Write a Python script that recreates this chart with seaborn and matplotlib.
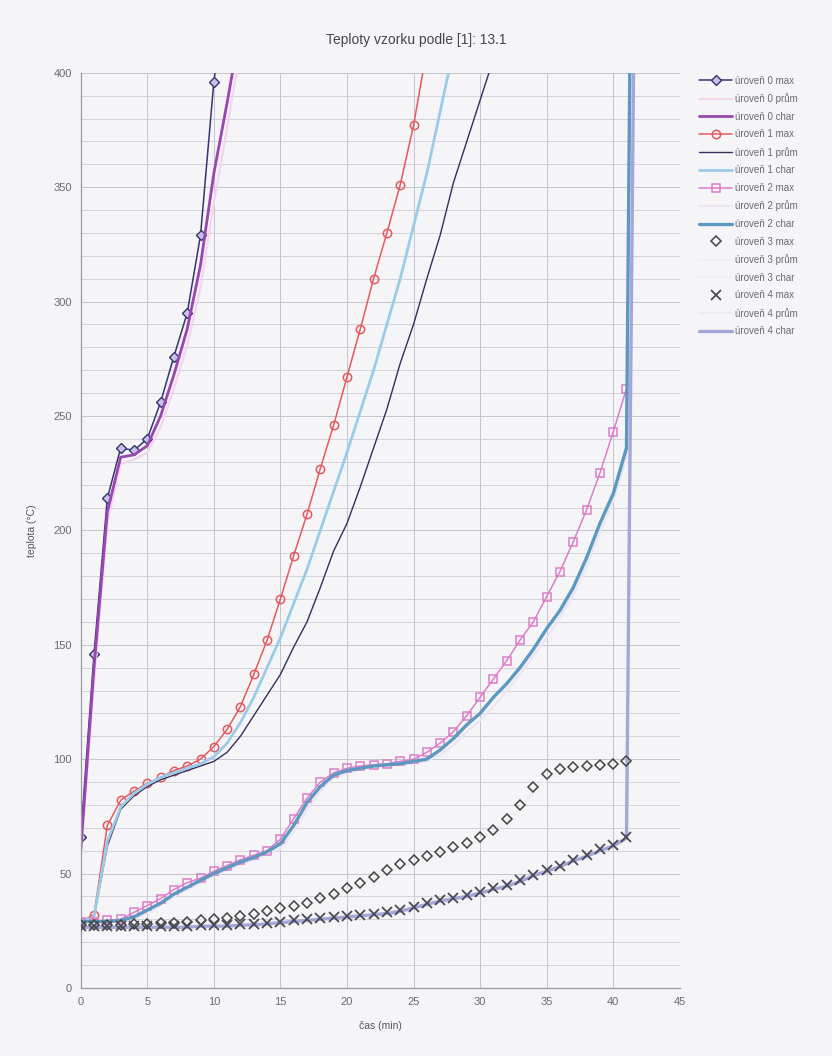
import matplotlib
matplotlib.use("Agg")
import matplotlib.pyplot as plt
from matplotlib.ticker import MultipleLocator
import pandas as pd
import seaborn as sns

# time axis (minutes)
cas = [0, 1, 2, 3, 4, 5, 6, 7, 8, 9, 10, 11, 12, 13, 14, 15, 16, 17, 18, 19, 20,
       21, 22, 23, 24, 25, 26, 27, 28, 29, 30, 31, 32, 33, 34, 35, 36, 37, 38, 39,
       40, 41, 42]

# level 0
u0_max = [66, 146, 214, 236, 235, 240, 256, 276, 295, 329, 396, 440]
u0_prum = [57, 134, 203, 229, 231, 234, 245, 262, 281, 306, 343, 376, 410]
u0_char = [60, 140, 208, 232, 233, 237, 250, 268, 288, 316, 356, 387, 420]

# level 1
u1_max = [29, 32, 71, 82, 86, 89.5, 92, 95, 97, 100, 105.5, 113, 123, 137, 152, 170,
          189, 207, 227, 246, 267, 288, 310, 330, 351, 377, 410]
u1_prum = [29, 31, 62, 78, 84, 88, 91, 93, 95, 97, 99, 103, 110, 119, 128, 137, 149,
           160, 175, 191, 203, 219, 236, 253, 273, 290, 310, 329, 352, 370, 388, 406]
u1_char = [29, 31, 64, 79, 85, 89, 92, 94, 96, 98, 101, 107, 116, 127, 140, 153, 168,
           183, 200, 217, 234, 252, 270, 290, 310, 333, 356, 383, 410]

# level 2
u2_max = [29, 29, 29.5, 30, 33, 36, 39, 43, 46, 48, 51, 53.5, 56, 58, 60, 65, 74, 83,
          90, 94, 96, 97, 97.5, 98, 99, 100, 103, 107, 112, 119, 127, 135, 143, 152,
          160, 171, 182, 195, 209, 225, 243, 262]
u2_prum = [29, 29, 29, 29, 30, 33, 36, 40, 43, 46, 49, 51.5, 54, 56, 58.5, 61, 68, 78,
           86, 92, 94, 95.5, 96.5, 97, 97.5, 98, 99, 102, 106, 112, 117, 123, 130, 137,
           145, 153, 162, 172, 184, 199, 213, 232, 880]
u2_char = [29, 29, 29, 29.5, 31, 34, 37, 41, 44, 47, 50, 52.5, 55, 57, 59.5, 63, 71, 81,
           88, 93, 95, 96, 97, 97.5, 98, 99, 100, 104, 109, 115, 120, 127, 133, 140,
           148, 157, 165, 175, 188, 203, 216, 236, 900]

# level 3
u3_max = [27.5, 27.5, 27.5, 27.5, 28, 28, 28.5, 28.5, 29, 29.5, 30, 30.5, 31.5, 32.5,
          33.5, 35, 36, 37.3, 39.5, 41.2, 43.5, 46, 48.5, 51.5, 54, 56, 57.5, 59.5,
          61.5, 63.5, 66, 69, 74, 80, 88, 93.5, 95.5, 96.5, 97, 97.5, 98, 99]
u3_prum = [27, 27, 27, 27, 27.5, 27.5, 28, 28, 28.5, 29, 29.5, 30, 31, 32, 33, 34, 35,
           36.5, 38.5, 40.5, 42.5, 45, 47.5, 50, 52.5, 54.5, 56.5, 58.5, 60.5, 62.5,
           65, 68, 72, 78, 85, 91, 94, 95.5, 96, 96.5, 97, 98]
u3_char = [27, 27, 27, 27.5, 27.5, 28, 28, 28.5, 29, 29.5, 30, 30.5, 31, 32, 33, 34.5,
           35.5, 37, 39, 41, 43, 45.5, 48, 51, 53, 55.5, 57, 59, 61, 63, 65.5, 68.5,
           73, 79, 86.5, 92.5, 95, 96, 96.5, 97, 97.5, 98.5]

# level 4
u4_max = [27, 27, 27, 27, 27, 27, 27, 27, 27, 27.5, 27.5, 27.5, 28, 28, 28.5, 29, 29.5,
          30, 30.5, 31, 31.5, 32, 32.5, 33, 34, 35.5, 37, 38.5, 39.5, 40.7, 42, 43.5,
          45, 47, 49.5, 51.5, 53.5, 56, 58, 60.5, 62.5, 66]
u4_prum = [26.5, 26.5, 26.5, 26.5, 26.5, 26.5, 26.5, 26.5, 26.5, 27, 27, 27, 27.5,
           27.5, 28, 28.5, 29, 29.5, 30, 30.5, 31, 31.5, 32, 32.5, 33.5, 35, 36.5, 38,
           39, 40, 41.5, 43, 44.5, 46.5, 49, 51, 53, 55.5, 57.5, 60, 62, 65]
u4_char = [26.5, 26.5, 26.5, 26.5, 26.5, 26.5, 26.5, 26.5, 26.5, 27, 27, 27, 27.5,
           27.5, 28, 28.5, 29, 29.5, 30, 30.5, 31, 31.5, 32, 32.5, 33.5, 35, 36.5, 38,
           39, 40, 41.5, 43, 44.5, 46.5, 49, 51, 53, 55.5, 57.5, 60, 62, 65.5, 700]

# (label, values, style)  -- the near-white series sit underneath the markers
series = [
    ("úroveň 0 max", u0_max, dict(color="#34346e", lw=1.1, marker="D", ms=5,
                                  mfc="#c8c0e8", mec="#34346e", mew=1)),
    ("úroveň 0 prům", u0_prum, dict(color="#f3d6ee", lw=1.6)),
    ("úroveň 0 char", u0_char, dict(color="#9a46b0", lw=2.0)),
    ("úroveň 1 max", u1_max, dict(color="#e35a5e", lw=1.1, marker="o", ms=6,
                                  mfc="none", mec="#e35a5e", mew=1.1)),
    ("úroveň 1 prům", u1_prum, dict(color="#30305f", lw=1.0)),
    ("úroveň 1 char", u1_char, dict(color="#9ccbea", lw=2.0)),
    ("úroveň 2 max", u2_max, dict(color="#dc7dc8", lw=1.1, marker="s", ms=5.5,
                                  mfc="none", mec="#dc7dc8", mew=1.1)),
    ("úroveň 2 prům", u2_prum, dict(color="#eee4f2", lw=1.6, zorder=1.5)),
    ("úroveň 2 char", u2_char, dict(color="#5c98c0", lw=2.4)),
    ("úroveň 3 max", u3_max, dict(color="#444444", linestyle="", marker="D", ms=5.5,
                                  mfc="none", mec="#444444", mew=1.1, zorder=3)),
    ("úroveň 3 prům", u3_prum, dict(color="#f1f1f4", lw=1.2, zorder=1.5)),
    ("úroveň 3 char", u3_char, dict(color="#f0f0f3", lw=1.2, zorder=1.5)),
    ("úroveň 4 max", u4_max, dict(color="#4a4a55", linestyle="", marker="x", ms=6.5,
                                  mec="#4a4a55", mew=1.3, zorder=3)),
    ("úroveň 4 prům", u4_prum, dict(color="#ececf0", lw=1.4, zorder=1.5)),
    ("úroveň 4 char", u4_char, dict(color="#a3a6d8", lw=2.4)),
]

sns.set_style("white")
plt.rcParams["font.family"] = ["Liberation Sans", "DejaVu Sans"]

bg = "#f5f5f8"
fig = plt.figure(figsize=(8.32, 10.56), dpi=100, facecolor=bg)
ax = fig.add_axes([0.097, 0.0645, 0.72, 0.8665], facecolor=bg)

for label, values, style in series:
    df = pd.DataFrame({"cas": cas[:len(values)], "teplota": values})
    sns.lineplot(data=df, x="cas", y="teplota", ax=ax, label=label,
                 sort=False, estimator=None, **style)

ax.set_xlim(0, 45)
ax.set_ylim(0, 400)
ax.xaxis.set_major_locator(MultipleLocator(5))
ax.yaxis.set_major_locator(MultipleLocator(50))
ax.yaxis.set_minor_locator(MultipleLocator(10))
ax.grid(True, which="major", color="#c4c4cc", lw=0.7)
ax.grid(True, which="minor", axis="y", color="#cdcdd4", lw=0.6)
ax.set_axisbelow(True)
for side in ["top", "right"]:
    ax.spines[side].set_visible(False)
for side in ["left", "bottom"]:
    ax.spines[side].set_color("#9a9aa4")
    ax.spines[side].set_linewidth(0.9)
ax.tick_params(axis="both", labelsize=8, colors="#6a6a72", length=3, width=0.6,
               direction="out")
ax.tick_params(axis="both", which="minor", length=0)

ax.set_xlabel("čas (min)", fontsize=7.5, color="#555560", labelpad=10)
ax.set_ylabel("teplota (°C)", fontsize=7.5, color="#555560", labelpad=12)
fig.text(0.5, 1 - 40 / 1056, "Teploty vzorku podle [1]: 13.1", ha="center",
         va="center", fontsize=10, color="#454550")

ax.legend(loc="upper left", bbox_to_anchor=(0.836, 0.932),
          bbox_transform=fig.transFigure, frameon=False, fontsize=7,
          labelcolor="#6a6a72", handlelength=3.4, handletextpad=0.3,
          labelspacing=0.78, borderaxespad=0)

plt.savefig("out.png", dpi=100, facecolor=bg)
